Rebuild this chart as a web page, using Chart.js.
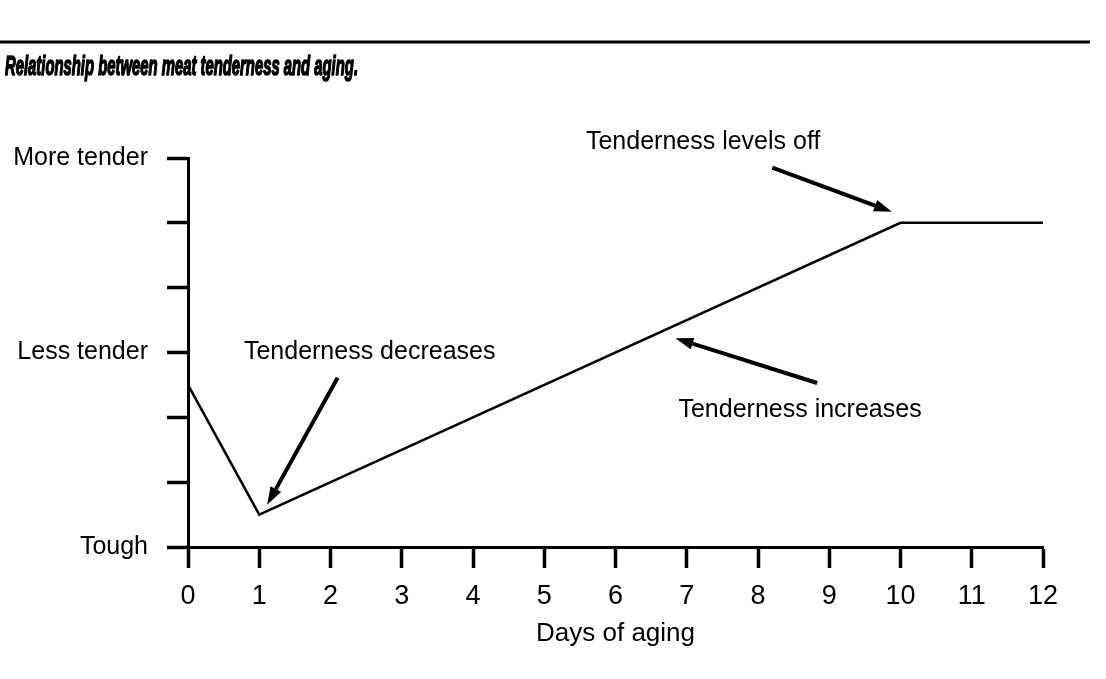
<!DOCTYPE html>
<html>
<head>
<meta charset="utf-8">
<script src="https://cdn.jsdelivr.net/npm/chart.js@4.4.1/dist/chart.umd.min.js"></script>
<style>
  html, body { margin: 0; padding: 0; background: #fff; }
  #wrap { width: 1106px; height: 679px; position: relative; }
</style>
</head>
<body>
<div id="wrap"><canvas id="myChart" width="1106" height="679"></canvas></div>
<script>
// days of aging and relative tenderness (0 = tough, 6 = more tender)
const days = [0, 1, 10, 12];
const tenderness = [2.5, 0.5, 5.0, 5.0];
const yLevels = [0, 3, 6];
const yLevelNames = ['Tough', 'Less tender', 'More tender'];
const titleText = 'Relationship between meat tenderness and aging.';
const xTitle = 'Days of aging';

// notes, placed in data units
const noteText = ['Tenderness decreases', 'Tenderness levels off', 'Tenderness increases'];
const noteX = [2.55, 7.23, 8.59];
const noteY = [3.0, 6.24, 2.11];
const arrowFromX = [2.1, 8.2, 8.83];
const arrowFromY = [2.61, 5.85, 2.53];
const arrowToX = [1.11, 9.88, 6.84];
const arrowToY = [0.65, 5.17, 3.22];

const FONT = "'Liberation Sans', Arial, sans-serif";

const points = days.map((d, i) => ({x: d, y: tenderness[i]}));

const decor = {
    id: 'decor',
    afterDraw(chart) {
        const ctx = chart.ctx;
        const xs = chart.scales.x, ys = chart.scales.y;
        ctx.save();
        // top rule
        ctx.strokeStyle = '#000';
        ctx.lineWidth = 3;
        ctx.beginPath();
        ctx.moveTo(0, 42);
        ctx.lineTo(1090, 42);
        ctx.stroke();
        // title, squeezed to a condensed look
        ctx.fillStyle = '#000';
        ctx.font = "italic bold 28px " + FONT;
        ctx.textAlign = 'left';
        ctx.textBaseline = 'middle';
        const w = ctx.measureText(titleText).width;
        ctx.save();
        ctx.translate(5, 67);
        ctx.scale(353 / w, 1);
        ctx.lineWidth = 1.6;
        ctx.lineJoin = 'round';
        ctx.strokeText(titleText, 0, 0);
        ctx.fillText(titleText, 0, 0);
        ctx.restore();
        // notes
        ctx.font = "25px " + FONT;
        ctx.textAlign = 'center';
        noteText.forEach((t, i) => {
            ctx.fillText(t, xs.getPixelForValue(noteX[i]), ys.getPixelForValue(noteY[i]));
        });
        // arrows
        for (let i = 0; i < arrowFromX.length; i++) {
            const x0 = xs.getPixelForValue(arrowFromX[i]), y0 = ys.getPixelForValue(arrowFromY[i]);
            const x1 = xs.getPixelForValue(arrowToX[i]), y1 = ys.getPixelForValue(arrowToY[i]);
            const a = Math.atan2(y1 - y0, x1 - x0);
            const hl = 18, hw = 6;
            const bx = x1 - hl * Math.cos(a), by = y1 - hl * Math.sin(a);
            ctx.lineWidth = 4;
            ctx.beginPath();
            ctx.moveTo(x0, y0);
            ctx.lineTo(bx, by);
            ctx.stroke();
            ctx.beginPath();
            ctx.moveTo(x1, y1);
            ctx.lineTo(bx + hw * Math.sin(a), by - hw * Math.cos(a));
            ctx.lineTo(bx - hw * Math.sin(a), by + hw * Math.cos(a));
            ctx.closePath();
            ctx.fill();
        }
        ctx.restore();
    }
};

new Chart(document.getElementById('myChart'), {
    type: 'line',
    data: {
        datasets: [{
            data: points,
            borderColor: '#000',
            borderWidth: 2.5,
            pointRadius: 0,
            tension: 0,
            fill: false
        }]
    },
    options: {
        responsive: false,
        animation: false,
        layout: { padding: { top: 158, right: 63, left: 0, bottom: 0 } },
        plugins: { legend: { display: false }, tooltip: { enabled: false } },
        scales: {
            x: {
                type: 'linear',
                min: 0, max: 12,
                afterFit: (s) => { s.height = 132; },
                border: { color: '#000', width: 3 },
                grid: { drawOnChartArea: false, tickLength: 21, tickColor: '#000', tickWidth: 3.5 },
                ticks: {
                    stepSize: 1, color: '#000', padding: 12, maxRotation: 0,
                    font: { family: FONT, size: 27 }
                },
                title: {
                    display: true, text: xTitle, color: '#000',
                    font: { family: FONT, size: 26 },
                    padding: { top: 0, bottom: 30 }
                }
            },
            y: {
                min: 0, max: 6,
                afterFit: (s) => { s.width = 188; },
                border: { color: '#000', width: 3 },
                grid: { drawOnChartArea: false, tickLength: 21, tickColor: '#000', tickWidth: 3.5 },
                ticks: {
                    stepSize: 1, color: '#000', padding: 19,
                    font: { family: FONT, size: 25 },
                    callback: (v) => {
                        const k = yLevels.indexOf(v);
                        return k >= 0 ? yLevelNames[k] : '';
                    }
                }
            }
        }
    },
    plugins: [decor]
});
</script>
</body>
</html>
